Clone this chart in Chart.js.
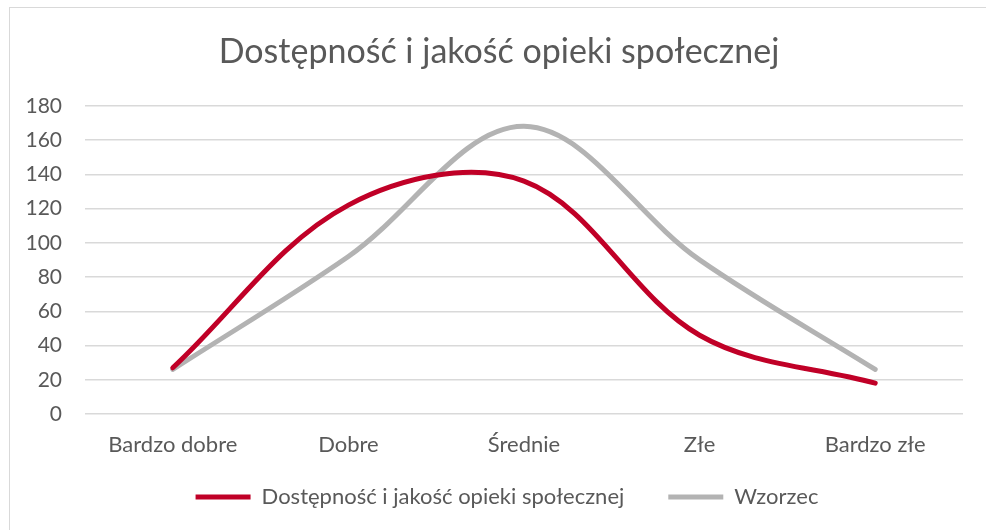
<!DOCTYPE html>
<html lang="pl">
<head>
  <meta charset="UTF-8" />
  <title>Dostępność i jakość opieki społecznej</title>
  <script src="https://cdn.jsdelivr.net/npm/chart.js"></script>
  <style>
    body { margin: 0; background: #fff; }
    #frame { position: absolute; left: 9px; top: 7px; width: 990px; height: 540px; border: 1px solid #d9d9d9; }
    #chart { position: absolute; left: 0; top: 0; }
  </style>
</head>
<body>
  <div id="frame"></div>
  <canvas id="chart" width="986" height="530"></canvas>

  <script>
    // dane
    const categories = ['Bardzo dobre', 'Dobre', 'Średnie', 'Złe', 'Bardzo złe'];
    const accessValues = [27, 122, 136, 46, 18];
    const patternValues = [26, 92, 168, 90, 26];
    const yTicks = [0, 20, 40, 60, 80, 100, 120, 140, 160, 180];

    const FONT = 'Lato';
    const TEXT = '#595959';

    // tytuł i legenda w Excelu są wyśrodkowane trochę bardziej w prawo,
    // legenda ma też duże odstępy między pozycjami
    const nudgeBoxes = {
      id: 'nudgeBoxes',
      afterLayout(chart) {
        chart.titleBlock.left += 26;
        const lg = chart.legend;
        lg.left += 42;
        lg.top -= 15;
        lg.bottom = chart.height;
        lg.height = lg.bottom - lg.top;
      }
    };

    const ctx = document.getElementById('chart').getContext('2d');
    new Chart(ctx, {
      type: 'line',
      data: {
        labels: categories,
        datasets: [
          {
            label: 'Dostępność i jakość opieki społecznej',
            data: accessValues,
            borderColor: '#C00027',
            backgroundColor: '#C00027',
            borderWidth: 5,
            borderCapStyle: 'round',
            pointRadius: 0,
            pointStyle: 'line',
            tension: 0.35
          },
          {
            label: 'Wzorzec',
            data: patternValues,
            borderColor: '#B3B3B3',
            backgroundColor: '#B3B3B3',
            borderWidth: 5,
            borderCapStyle: 'round',
            pointRadius: 0,
            pointStyle: 'line',
            tension: 0.35
          }
        ]
      },
      options: {
        responsive: false,
        animation: false,
        layout: { padding: { left: 9, right: 23, top: 7, bottom: 13 } },
        plugins: {
          title: {
            display: true,
            text: 'Dostępność i jakość opieki społecznej',
            color: TEXT,
            font: { family: FONT, size: 34, weight: 'normal' },
            padding: { top: 25, bottom: 33 }
          },
          legend: {
            position: 'bottom',
            maxHeight: 60,
            labels: {
              usePointStyle: true,
              pointStyleWidth: 55,
              color: TEXT,
              font: { family: FONT, size: 22 },
              padding: 44
            }
          },
          tooltip: { enabled: false }
        },
        scales: {
          x: {
            offset: true,
            grid: { display: false, drawTicks: false },
            border: { display: false },
            ticks: { color: TEXT, font: { family: FONT, size: 22 }, padding: 18 },
            afterFit: s => { s.height = 43; }
          },
          y: {
            min: 0,
            max: 180,
            afterBuildTicks: s => { s.ticks = yTicks.map(v => ({ value: v })); },
            grid: { color: '#D9D9D9', lineWidth: 1.5, drawTicks: false },
            border: { display: false },
            ticks: { color: TEXT, font: { family: FONT, size: 21 }, padding: 23 },
            afterFit: s => { s.width = 76; }
          }
        }
      },
      plugins: [nudgeBoxes]
    });
  </script>
</body>
</html>
